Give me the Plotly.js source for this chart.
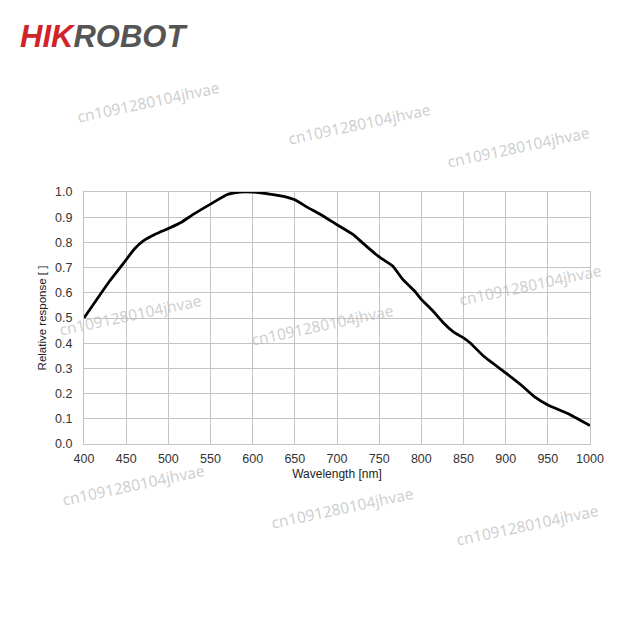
<!DOCTYPE html>
<html>
<head>
<meta charset="utf-8">
<script src="https://cdn.plot.ly/plotly-3.0.1.min.js"></script>
<style>html,body{margin:0;padding:0;background:#fff}#chart{width:640px;height:640px}</style>
</head>
<body>
<div id="chart"></div>
<script>
// Wavelength (nm) and relative response
const wavelength = [400, 430, 447, 460, 470, 485, 500, 515, 530, 550, 570, 585, 600, 620, 637, 650, 665, 680, 700, 720, 732, 746, 752, 766, 778, 792, 800, 814, 826, 838, 850, 858, 874, 900, 918, 934, 950, 973, 1000];
const response   = [0.50, 0.645, 0.718, 0.775, 0.805, 0.833, 0.855, 0.879, 0.912, 0.952, 0.99, 1.0, 1.0, 0.992, 0.983, 0.969, 0.939, 0.912, 0.870, 0.829, 0.793, 0.753, 0.738, 0.706, 0.653, 0.607, 0.574, 0.527, 0.481, 0.445, 0.421, 0.401, 0.348, 0.282, 0.235, 0.188, 0.155, 0.122, 0.073];
const xTicks = [400, 450, 500, 550, 600, 650, 700, 750, 800, 850, 900, 950, 1000];
const yTicks = [0.0, 0.1, 0.2, 0.3, 0.4, 0.5, 0.6, 0.7, 0.8, 0.9, 1.0];
const watermarkText = 'cn1091280104jhvae';

// watermark pixel centres (page px)
const wm = [[148,102],[359,124],[518,147],[130,315],[322,325],[530,285],[133,485],[342,508],[527,525]];
const L = 84, R = 590, T = 192, B = 444;
const annotations = wm.map(([px, py]) => ({
  xref: 'paper', yref: 'paper',
  x: (px - L) / (R - L), y: (B - py) / (B - T),
  text: watermarkText, showarrow: false, textangle: -12,
  font: {family: 'Noto Sans', size: 15.5, color: 'rgba(190,190,190,0.75)'},
  xanchor: 'center', yanchor: 'middle'
}));
annotations.push({
  xref: 'paper', yref: 'paper',
  x: (18 - L) / (R - L), y: (B - 36) / (B - T),
  xanchor: 'left', yanchor: 'middle', showarrow: false,
  text: '<span style="color:#d0232a">HIK</span><span style="color:#555555">ROBOT</span>',
  font: {family: 'Liberation Sans', size: 31, weight: 'bold', style: 'italic'}
});

const trace = {
  x: wavelength, y: response, type: 'scatter', mode: 'lines',
  line: {color: '#000000', width: 2.8, shape: 'spline', smoothing: 0.4},
  hoverinfo: 'skip'
};

const axisCommon = {
  showgrid: true, gridcolor: '#c4c4c4', gridwidth: 1,
  showline: true, linecolor: '#c4c4c4', linewidth: 1, mirror: true,
  zeroline: false, ticks: '',
  tickfont: {family: 'Liberation Sans', size: 12.5, color: '#333333'},
  fixedrange: true
};

const layout = {
  width: 640, height: 640,
  margin: {l: L, r: 640 - R, t: T, b: 640 - B},
  paper_bgcolor: '#ffffff', plot_bgcolor: '#ffffff',
  showlegend: false,
  xaxis: Object.assign({}, axisCommon, {
    range: [400, 1000], tickvals: xTicks, ticktext: xTicks.map(String),
    ticklabelstandoff: 3,
    title: {text: 'Wavelength [nm]', font: {family: 'Liberation Sans', size: 12, color: '#222222'}, standoff: 4}
  }),
  yaxis: Object.assign({}, axisCommon, {
    range: [0, 1], tickvals: yTicks, ticktext: yTicks.map(v => v.toFixed(1)),
    ticklabelstandoff: 8,
    title: {text: 'Relative response [ ]', font: {family: 'Liberation Sans', size: 11.5, color: '#222222'}, standoff: 6}
  }),
  annotations: annotations
};

Plotly.newPlot('chart', [trace], layout, {displayModeBar: false, staticPlot: true});
</script>
</body>
</html>
